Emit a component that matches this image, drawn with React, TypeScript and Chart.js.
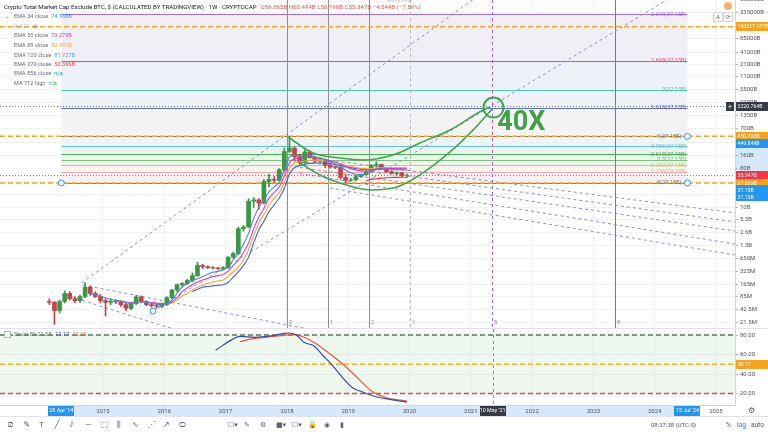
import React, { useEffect, useRef } from 'react';
import { Chart, registerables } from 'chart.js';

Chart.register(...registerables);

const FONT = 'Roboto, "Noto Sans", "DejaVu Sans", sans-serif';

// ---------- time axis (decimal years) ----------
const X_MIN = 2013.32;
const X_MAX = 2025.31;
const YEAR_TICKS = [2015, 2016, 2017, 2018, 2019, 2020, 2021, 2022, 2023, 2024, 2025];

// ---------- price axis (billions USD, log) ----------
const PRICE_MIN = 0.01572;
const PRICE_MAX = 667400;
const PRICE_TICKS = [0.0215, 0.0425, 0.085, 0.165, 0.325, 0.65, 1.3, 2.6, 5.2, 10, 20, 40, 80, 160, 320, 700, 1350, 2700, 5500, 11000, 21000, 41000, 85000, 165000, 335000, 680000];
const PRICE_TICK_LABELS = ['21.5M', '42.5M', '85M', '165M', '325M', '650M', '1.3B', '2.6B', '5.2B', '10B', '20B', '40B', '80B', '160B', '320B', '700B', '1350B', '2700B', '5500B', '11000B', '21000B', '41000B', '85000B', '165000B', '335000B', '680000B'];

// ---------- monthly candles (billions) ----------
const CANDLE_MONTHS = [
  '2014-02', '2014-03', '2014-04', '2014-05', '2014-06', '2014-07', '2014-08', '2014-09', '2014-10', '2014-11', '2014-12',
  '2015-01', '2015-02', '2015-03', '2015-04', '2015-05', '2015-06', '2015-07', '2015-08', '2015-09', '2015-10', '2015-11', '2015-12',
  '2016-01', '2016-02', '2016-03', '2016-04', '2016-05', '2016-06', '2016-07', '2016-08', '2016-09', '2016-10', '2016-11', '2016-12',
  '2017-01', '2017-02', '2017-03', '2017-04', '2017-05', '2017-06', '2017-07', '2017-08', '2017-09', '2017-10', '2017-11', '2017-12',
  '2018-01', '2018-02', '2018-03', '2018-04', '2018-05', '2018-06', '2018-07', '2018-08', '2018-09', '2018-10', '2018-11', '2018-12',
  '2019-01', '2019-02', '2019-03', '2019-04', '2019-05', '2019-06', '2019-07', '2019-08', '2019-09', '2019-10', '2019-11', '2019-12',
];
const OPEN = [
  0.065, 0.062, 0.040, 0.065, 0.100, 0.075, 0.068, 0.085, 0.140, 0.100, 0.085,
  0.068, 0.062, 0.066, 0.064, 0.055, 0.045, 0.058, 0.083, 0.065, 0.055, 0.052, 0.050,
  0.055, 0.080, 0.120, 0.160, 0.170, 0.200, 0.260, 0.450, 0.420, 0.400, 0.390, 0.380,
  0.400, 0.700, 0.850, 3.2, 3.5, 14, 15, 12.7, 40, 45, 43, 75,
  200, 240, 150, 110, 195, 145, 120, 125, 95, 88, 85, 50,
  43, 44, 52, 58, 67, 95, 100, 80, 68, 62, 64, 55,
];
const HIGH = [
  0.075, 0.065, 0.070, 0.115, 0.110, 0.085, 0.090, 0.180, 0.150, 0.110, 0.095,
  0.075, 0.075, 0.072, 0.068, 0.060, 0.060, 0.090, 0.088, 0.068, 0.060, 0.056, 0.060,
  0.085, 0.125, 0.165, 0.180, 0.215, 0.300, 0.540, 0.480, 0.440, 0.420, 0.410, 0.420,
  0.720, 0.900, 3.5, 3.8, 16, 17, 16, 45, 60, 52, 80, 240,
  450, 260, 175, 220, 210, 155, 140, 128, 105, 92, 88, 60,
  48, 55, 60, 72, 100, 115, 102, 82, 72, 68, 66, 60.494,
];
const LOW = [
  0.055, 0.019, 0.035, 0.060, 0.070, 0.060, 0.062, 0.080, 0.090, 0.080, 0.060,
  0.030, 0.055, 0.058, 0.050, 0.040, 0.042, 0.055, 0.060, 0.052, 0.048, 0.045, 0.046,
  0.052, 0.075, 0.110, 0.140, 0.160, 0.185, 0.250, 0.380, 0.380, 0.370, 0.360, 0.360,
  0.380, 0.650, 0.800, 2.8, 3.4, 10, 9, 12, 30, 38, 42, 70,
  190, 120, 95, 105, 140, 110, 110, 85, 82, 80, 45, 38,
  40, 42, 50, 56, 65, 85, 75, 65, 60, 58, 52, 50.198,
];
const CLOSE = [
  0.062, 0.040, 0.065, 0.100, 0.075, 0.068, 0.085, 0.140, 0.100, 0.085, 0.068,
  0.062, 0.066, 0.064, 0.055, 0.045, 0.058, 0.083, 0.065, 0.055, 0.052, 0.050, 0.055,
  0.080, 0.120, 0.160, 0.170, 0.200, 0.260, 0.450, 0.420, 0.400, 0.390, 0.380, 0.400,
  0.700, 0.850, 3.2, 3.5, 14, 15, 12.7, 40, 45, 43, 75, 200,
  240, 150, 110, 195, 145, 120, 125, 95, 88, 85, 50, 43,
  44, 52, 58, 67, 95, 100, 80, 68, 62, 64, 55, 55.347,
];

// ---------- moving averages (billions, per month) ----------
const N = null;
const EMA34 = [
  N, N, N, N, N, N, N, N, 0.095, 0.093, 0.086,
  0.079, 0.073, 0.069, 0.066, 0.061, 0.059, 0.063, 0.064, 0.062, 0.059, 0.056, 0.055,
  0.058, 0.070, 0.100, 0.140, 0.170, 0.200, 0.220, 0.245, 0.280, 0.310, 0.330, 0.350,
  0.42, 0.60, 0.87, 1.4, 2.5, 5.5, 10, 15, 23, 30, 39, 75,
  150, 165, 158, 160, 160, 150, 140, 127, 113, 102, 88, 74,
  64, 59, 58, 60, 67, 75, 78, 78, 76.5, 75.5, 74.8, 74.188,
];
const EMA55 = [
  N, N, N, N, N, N, N, N, N, N, N,
  N, N, 0.068, 0.066, 0.063, 0.061, 0.063, 0.064, 0.063, 0.061, 0.059, 0.058,
  0.058, 0.063, 0.080, 0.110, 0.135, 0.160, 0.185, 0.205, 0.225, 0.245, 0.260, 0.275,
  0.33, 0.45, 0.60, 0.90, 1.5, 3.2, 6.0, 9.5, 16.5, 22, 30, 55,
  110, 135, 140, 145, 148, 145, 140, 132, 122, 113, 102, 90,
  80, 74, 71, 70, 73, 78, 80.5, 81, 80.5, 80, 79.6, 79.279,
];
const EMA89 = [
  N, N, N, N, N, N, N, N, N, N, N,
  N, N, N, N, N, N, N, N, N, 0.061, 0.060, 0.059,
  0.058, 0.060, 0.070, 0.087, 0.100, 0.120, 0.140, 0.157, 0.170, 0.185, 0.195, 0.205,
  0.25, 0.32, 0.41, 0.60, 1.06, 2.2, 4.3, 6.8, 11.3, 16, 22, 38,
  80, 108, 115, 120, 125, 126, 125, 122, 117, 111, 104, 96,
  90, 85, 81, 79, 80, 82.5, 84, 84.5, 84, 83.6, 83.3, 82.991,
];
const EMA120 = [
  N, N, N, N, N, N, N, N, N, N, N,
  N, N, N, N, N, N, N, N, N, N, N, N,
  N, N, N, N, N, 0.110, 0.125, 0.140, 0.145, 0.150, 0.155, 0.160,
  0.18, 0.24, 0.32, 0.45, 0.70, 1.5, 3.0, 4.8, 8.0, 11.5, 16.6, 28,
  60, 85, 93, 100, 106, 108, 108, 107, 104, 100, 95, 89,
  85, 81, 78, 77, 77.5, 79.5, 81, 81.6, 81.8, 81.9, 81.8, 81.727,
];
const EMA270 = [
  N, N, N, N, N, N, N, N, N, N, N,
  N, N, N, N, N, N, N, N, N, N, N, N,
  N, N, N, N, N, N, N, N, N, N, N, N,
  N, N, N, N, N, N, N, N, N, N, N, N,
  N, N, N, N, N, N, N, N, N, N, N, N,
  N, N, N, 42, 44.5, 46.5, 48, 49, 49.8, 50.1, 50.3, 50.366,
];
const EMA_COLORS = ['#4a89c8', '#d63ad6', '#f5a623', '#3d5afe', '#e53935'];

// ---------- drawings ----------
// trend lines: [startYear, startPrice, endYear, endPrice]
const TREND_LINES = [
  [2014.65, 0.175, 2021.5, 2050000],
  [2015.816, 0.039, 2024.5, 1220000],
  [2014.674, 0.157, 2019.0, 0.0098],
  [2014.38, 0.092, 2016.6, 0.0093],
  [2018.214, 154, 2025.31, 7.43],
  [2018.214, 119, 2025.31, 4.6],
  [2018.214, 84.9, 2025.31, 2.83],
  [2018.214, 61.2, 2025.31, 1.41],
  [2018.703, 28.2, 2025.31, 0.786],
];
const USER_HLINES = [160017.187, 450.126, 37.029];
const LAST_PRICE = 55.347;
const CROSSHAIR_PRICE = 2220.764;
const CROSSHAIR_TIME = 2021.356;

const CURVE_UPPER_X = [2018.018, 2018.426, 2018.866, 2019.241, 2019.731, 2020.171, 2020.661, 2021.199, 2021.313];
const CURVE_UPPER_Y = [435, 184.5, 141, 127, 166, 315, 632, 1844, 2163];
const CURVE_LOWER_X = [2018.214, 2018.54, 2018.866, 2019.356, 2019.796, 2020.171, 2020.661, 2021.069, 2021.362];
const CURVE_LOWER_Y = [108, 57, 37, 25.5, 29.9, 57, 195, 706, 2063];
const TARGET_TIME = 2021.37;
const TARGET_PRICE = 2100;
const TARGET_LABEL = '40X';
const TARGET_LABEL_TIME = 2021.43;
const TARGET_LABEL_PRICE = 930;
const TREND_HANDLE = [2015.816, 0.039];

// fib retracement (log)
const FIB_START = 2014.32; // 28 Apr '14
const FIB_END = 2024.535; // 15 Jul '24
const FIB_PRICE_0 = 37.15;
const FIB_PRICE_1 = 449.849;
const FIB_LEVELS = [0, 0.236, 0.382, 0.5, 0.618, 0.786, 1, 1.618, 2, 2.618, 3.618];
const FIB_LEVEL_TEXT = ['0', '0.236', '0.382', '0.5', '0.618', '0.786', '1', '1.618', '2', '2.618', '3.618'];
const FIB_COLORS = ['#787b86', '#f4a6b6', '#bcd35f', '#7cc47f', '#4caf50', '#6fbfd6', '#787b86', '#5c6bc0', '#4dc9b0', '#e05567', '#a56be0'];
const FIB_ZONE_FILLS = ['#f7f0f3', '#f6f5ec', '#f0f6ec', '#ebf5ed', '#e9f4f2', '#ebf4f8', '#f4f4f7', '#eef1f8', '#eef1f7', '#f1eff6'];
const FIB_LABEL_SUFFIX = '(37.15B)';

// fib time zones
const FIB_TIME_START = 2018.0;
const FIB_TIME_UNIT = 0.669;
const FIB_TIME_LEVELS = [0, 1, 2, 3, 5, 8];
const FIB_TIME_COLORS = ['#8d9099', '#8d9099', '#8d9099', '#b2b5be', '#a15fd0', '#b24fd8'];

// price axis labels
const AXIS_LABEL_PRICES = [160017.187, 450.126, 449.849, 55.347, 37.029, 37.15, 37.15];
const AXIS_LABEL_TEXTS = ['160017.187B', '450.126B', '449.849B', '55.347B', '37.029B', '37.15B', '37.15B'];
const AXIS_LABEL_COLORS = ['#f7a21b', '#f7a21b', '#2196f3', '#f23645', '#f7a21b', '#2196f3', '#2196f3'];
const AXIS_LABEL_SHIFT = [0, 0, 7, 0, 0, 7, 14];

// ---------- stochastic ----------
const STOCH_MIN = 8.2;
const STOCH_MAX = 86.2;
const STOCH_TICKS = [20, 40, 60, 80];
const STOCH_K_X = [2016.838, 2017.117, 2017.235, 2017.479, 2017.675, 2017.798, 2017.953, 2018.034, 2018.158, 2018.279, 2018.437, 2018.597, 2018.752, 2018.915, 2019.078, 2019.237, 2019.397, 2019.633, 2019.96];
const STOCH_K = [64.4, 75.8, 78.7, 77.7, 78.7, 79.7, 81.7, 82.1, 79.7, 72.6, 68.9, 58.5, 48.1, 35.8, 25.6, 21.5, 17.7, 14.4, 11.17];
const STOCH_D_X = [2017.235, 2017.398, 2017.638, 2017.953, 2018.116, 2018.279, 2018.437, 2018.677, 2018.915, 2019.157, 2019.397, 2019.633, 2019.96];
const STOCH_D = [73.1, 75.8, 77.7, 79.7, 80.7, 77.7, 72.6, 61.9, 50.1, 35.8, 21.8, 15.6, 12.16];
const STOCH_LEVELS = [80, 50, 20];
const STOCH_LEVEL_COLORS = ['#4d7f4d', '#e9b23a', '#e04848'];
const STOCH_LAST = 50.11;

const TIME_BOXES = [2014.32, 2021.356, 2024.535];
const TIME_BOX_TEXT = ["28 Apr '14", "10 May '21", "15 Jul '24"];
const TIME_BOX_COLORS = ['#2196f3', '#363a45', '#2196f3'];

const LEGEND_NAMES = ['EMA 34 close', 'Vol 21', 'EMA 55 close', 'EMA 89 close', 'EMA 120 close', 'EMA 270 close', 'EMA 856 close', 'MA 712 high'];
const LEGEND_VALUES = ['74.188B', '', '79.279B', '82.991B', '81.727B', '50.366B', 'n/a', 'n/a'];
const LEGEND_COLORS = ['#2196f3', '#b2b5be', '#d63ad6', '#f5a623', '#42a5f5', '#f44336', '#2196f3', '#4caf50'];
const LEGEND_Y = [16, 26, 35, 45, 55, 64, 73, 83];

const monthToYear = (m: string) => {
  const [yy, mo] = m.split('-').map(Number);
  return yy + (mo - 0.5) / 12;
};
const fibPrice = (lv: number) => FIB_PRICE_0 * Math.pow(FIB_PRICE_1 / FIB_PRICE_0, lv);

function labelBox(ctx: any, text: string, xLeft: number, yc: number, w: number, bg: string) {
  ctx.fillStyle = bg;
  ctx.fillRect(xLeft, Math.round(yc - 4.5), w, 9);
  ctx.fillStyle = '#ffffff';
  ctx.font = `5.2px ${FONT}`;
  ctx.textBaseline = 'middle';
  ctx.textAlign = 'left';
  ctx.fillText(text, xLeft + 1.5, yc + 0.5);
}

const mainOverlay = {
  id: 'mainOverlay',
  beforeDraw(chart: any) {
    const { ctx, width, height, chartArea, scales } = chart;
    ctx.save();
    ctx.fillStyle = '#ffffff';
    ctx.fillRect(0, 0, width, height);
    const t = scales.y.getPixelForValue(FIB_PRICE_1);
    const b = scales.y.getPixelForValue(FIB_PRICE_0);
    ctx.fillStyle = '#d6e8fb';
    ctx.fillRect(chartArea.right + 1, t, width - chartArea.right, b - t);
    ctx.restore();
  },
  beforeDatasetsDraw(chart: any) {
    const { ctx, chartArea, scales } = chart;
    const x = scales.x, y = scales.y;
    const xl = x.getPixelForValue(FIB_START), xr = x.getPixelForValue(FIB_END);
    ctx.save();
    ctx.beginPath();
    ctx.rect(chartArea.left, chartArea.top, chartArea.right - chartArea.left, chartArea.bottom - chartArea.top);
    ctx.clip();
    for (let i = 1; i < FIB_LEVELS.length; i++) {
      const y1 = y.getPixelForValue(fibPrice(FIB_LEVELS[i]));
      const y0 = y.getPixelForValue(fibPrice(FIB_LEVELS[i - 1]));
      ctx.fillStyle = FIB_ZONE_FILLS[i - 1];
      ctx.fillRect(xl, y1, xr - xl, y0 - y1);
    }
    FIB_LEVELS.forEach((lv, i) => {
      const py = Math.round(y.getPixelForValue(fibPrice(lv))) + 0.5;
      ctx.strokeStyle = FIB_COLORS[i];
      ctx.lineWidth = 1;
      ctx.beginPath();
      ctx.moveTo(xl, py);
      ctx.lineTo(xr, py);
      ctx.stroke();
    });
    FIB_TIME_LEVELS.forEach((n, i) => {
      const px = Math.round(x.getPixelForValue(FIB_TIME_START + n * FIB_TIME_UNIT)) + 0.5;
      ctx.strokeStyle = FIB_TIME_COLORS[i];
      ctx.lineWidth = 1;
      ctx.setLineDash(n === 3 || n === 5 ? [3, 3] : []);
      ctx.beginPath();
      ctx.moveTo(px, chartArea.top);
      ctx.lineTo(px, chartArea.bottom);
      ctx.stroke();
    });
    ctx.setLineDash([]);
    ctx.restore();
  },
  afterDatasetsDraw(chart: any) {
    const { ctx, chartArea, scales } = chart;
    const x = scales.x, y = scales.y;
    const xr = x.getPixelForValue(FIB_END);
    ctx.save();
    ctx.font = `5.6px ${FONT}`;
    ctx.textAlign = 'right';
    ctx.textBaseline = 'middle';
    FIB_LEVELS.forEach((lv, i) => {
      const py = y.getPixelForValue(fibPrice(lv));
      ctx.fillStyle = FIB_COLORS[i];
      const off = lv === 0 || lv === 1 ? 6 : 1;
      ctx.fillText(FIB_LEVEL_TEXT[i] + FIB_LABEL_SUFFIX, xr - off, py);
    });
    ctx.textAlign = 'left';
    ctx.font = `5.6px ${FONT}`;
    FIB_TIME_LEVELS.forEach((n, i) => {
      const px = x.getPixelForValue(FIB_TIME_START + n * FIB_TIME_UNIT);
      ctx.fillStyle = FIB_TIME_COLORS[i];
      ctx.fillText(String(n), px + 2, chartArea.bottom - 5);
    });
    ctx.fillStyle = '#43a047';
    ctx.font = `bold 27px ${FONT}`;
    ctx.fillText(TARGET_LABEL, x.getPixelForValue(TARGET_LABEL_TIME), y.getPixelForValue(TARGET_LABEL_PRICE));
    ctx.restore();
  },
  afterDraw(chart: any) {
    const { ctx, chartArea, width, scales } = chart;
    const y = scales.y;
    ctx.save();
    AXIS_LABEL_PRICES.forEach((p, i) => {
      labelBox(ctx, AXIS_LABEL_TEXTS[i], chartArea.right + 1, y.getPixelForValue(p) + AXIS_LABEL_SHIFT[i], width - chartArea.right, AXIS_LABEL_COLORS[i]);
    });
    const cy = y.getPixelForValue(CROSSHAIR_PRICE);
    labelBox(ctx, CROSSHAIR_PRICE.toFixed(3) + 'B', chartArea.right + 1, cy, width - chartArea.right, '#363a45');
    ctx.fillStyle = '#363a45';
    ctx.fillRect(chartArea.right - 9, Math.round(cy - 4.5), 8, 9);
    ctx.fillStyle = '#fff';
    ctx.font = `7px ${FONT}`;
    ctx.textAlign = 'center';
    ctx.fillText('+', chartArea.right - 5, cy + 0.5);
    ctx.restore();
  },
};

const stochOverlay = {
  id: 'stochOverlay',
  beforeDraw(chart: any) {
    const { ctx, width, height, chartArea, scales } = chart;
    ctx.save();
    ctx.fillStyle = '#ffffff';
    ctx.fillRect(0, 0, width, height);
    const a = scales.x.getPixelForValue(FIB_START), b = scales.x.getPixelForValue(FIB_END);
    ctx.fillStyle = '#d6e8fb';
    ctx.fillRect(a, chartArea.bottom + 1, b - a, height - chartArea.bottom);
    ctx.restore();
  },
  beforeDatasetsDraw(chart: any) {
    const { ctx, chartArea, scales } = chart;
    const y80 = scales.y.getPixelForValue(80), y20 = scales.y.getPixelForValue(20);
    ctx.save();
    ctx.fillStyle = 'rgba(76, 175, 80, 0.09)';
    ctx.fillRect(chartArea.left, y80, chartArea.right - chartArea.left, y20 - y80);
    const cx = Math.round(scales.x.getPixelForValue(CROSSHAIR_TIME)) + 0.5;
    ctx.strokeStyle = '#9d86c2';
    ctx.setLineDash([3, 3]);
    ctx.beginPath();
    ctx.moveTo(cx, chartArea.top);
    ctx.lineTo(cx, chartArea.bottom);
    ctx.stroke();
    ctx.restore();
  },
  afterDraw(chart: any) {
    const { ctx, chartArea, width, height, scales } = chart;
    ctx.save();
    labelBox(ctx, STOCH_LAST.toFixed(2), chartArea.right + 1, scales.y.getPixelForValue(STOCH_LAST), width - chartArea.right, '#f7a21b');
    TIME_BOXES.forEach((t, i) => {
      const cx = scales.x.getPixelForValue(t);
      ctx.fillStyle = TIME_BOX_COLORS[i];
      ctx.fillRect(Math.round(cx - 13), chartArea.bottom + 1, 26, height - chartArea.bottom - 1);
      ctx.fillStyle = '#fff';
      ctx.font = `5.4px ${FONT}`;
      ctx.textAlign = 'center';
      ctx.textBaseline = 'middle';
      ctx.fillText(TIME_BOX_TEXT[i], cx, chartArea.bottom + (height - chartArea.bottom) / 2 + 0.5);
    });
    ctx.restore();
  },
};

function buildMain(canvas: HTMLCanvasElement) {
  const times = CANDLE_MONTHS.map(monthToYear);
  const colors = times.map((_, i) => (CLOSE[i] >= OPEN[i] ? '#3a9842' : '#c2454a'));
  const line = (data: any[], color: string, extra: any = {}) => ({
    type: 'line',
    data,
    borderColor: color,
    borderWidth: 1,
    pointRadius: 0,
    fill: false,
    ...extra,
  });
  const datasets: any[] = [];
  TREND_LINES.forEach((l) => {
    datasets.push(line([{ x: l[0], y: l[1] }, { x: l[2], y: l[3] }], '#8b90cf', { borderDash: [3, 3], order: 60 }));
  });
  USER_HLINES.forEach((v) => {
    datasets.push(line([{ x: X_MIN, y: v }, { x: X_MAX, y: v }], '#f5a623', { borderWidth: 1.5, borderDash: [5, 3], order: 55 }));
  });
  datasets.push(line([{ x: X_MIN, y: LAST_PRICE }, { x: X_MAX, y: LAST_PRICE }], '#ef5350', { borderDash: [1, 2], order: 55 }));
  datasets.push(line([{ x: X_MIN, y: CROSSHAIR_PRICE }, { x: X_MAX, y: CROSSHAIR_PRICE }], '#6b6f8a', { borderDash: [1, 2], order: 55 }));
  datasets.push({
    type: 'bar',
    data: times.map((x, i) => ({ x, y: [LOW[i], HIGH[i]] })),
    backgroundColor: colors,
    barThickness: 1,
    grouped: false,
    order: 40,
  });
  datasets.push({
    type: 'bar',
    data: times.map((x, i) => ({ x, y: [OPEN[i], CLOSE[i]] })),
    backgroundColor: colors,
    barThickness: 4,
    grouped: false,
    order: 39,
  });
  [EMA34, EMA55, EMA89, EMA120, EMA270].forEach((arr, k) => {
    datasets.push(line(times.map((x, i) => ({ x, y: arr[i] })), EMA_COLORS[k], { borderWidth: 1.1, cubicInterpolationMode: 'monotone', order: 30 }));
  });
  datasets.push(line(CURVE_UPPER_X.map((x, i) => ({ x, y: CURVE_UPPER_Y[i] })), '#3fa64a', { borderWidth: 1.6, cubicInterpolationMode: 'monotone', order: 10 }));
  datasets.push(line(CURVE_LOWER_X.map((x, i) => ({ x, y: CURVE_LOWER_Y[i] })), '#3fa64a', { borderWidth: 1.6, cubicInterpolationMode: 'monotone', order: 10 }));
  datasets.push(line([{ x: TARGET_TIME, y: TARGET_PRICE }], '#3fa64a', { showLine: false, pointRadius: 10, pointBorderWidth: 2, pointBorderColor: '#3fa64a', pointBackgroundColor: 'rgba(0,0,0,0)', order: 5 }));
  datasets.push(line([{ x: FIB_START, y: FIB_PRICE_0 }, { x: FIB_END, y: FIB_PRICE_1 }, { x: FIB_END, y: FIB_PRICE_0 }, { x: TREND_HANDLE[0], y: TREND_HANDLE[1] }], '#2196f3', { showLine: false, pointRadius: 3, pointBorderWidth: 1, pointBorderColor: '#2196f3', pointBackgroundColor: '#ffffff', order: 4 }));

  return new Chart(canvas, {
    type: 'bar',
    data: { datasets },
    options: {
      animation: false,
      responsive: false,
      maintainAspectRatio: false,
      events: [],
      layout: { padding: 0, autoPadding: false },
      plugins: { legend: { display: false }, tooltip: { enabled: false } },
      scales: {
        x: {
          type: 'linear',
          min: X_MIN,
          max: X_MAX,
          offset: false,
          grid: { color: '#f0f2f7', drawTicks: false, offset: false },
          border: { display: false },
          ticks: { display: false },
          afterBuildTicks: (a: any) => { a.ticks = YEAR_TICKS.map((v) => ({ value: v })); },
          afterFit: (a: any) => { a.height = 0; a.paddingLeft = 0; a.paddingRight = 0; },
        },
        y: {
          type: 'logarithmic',
          position: 'right',
          min: PRICE_MIN,
          max: PRICE_MAX,
          grid: { color: '#f0f2f7', tickLength: 3, tickColor: '#b2b5be' },
          border: { color: '#d1d4dc' },
          ticks: {
            autoSkip: false,
            font: { family: FONT, size: 6 },
            color: '#50535e',
            padding: 2,
            callback: (v: any) => {
              const i = PRICE_TICKS.indexOf(v);
              return i >= 0 ? PRICE_TICK_LABELS[i] : '';
            },
          },
          afterBuildTicks: (a: any) => { a.ticks = PRICE_TICKS.map((v) => ({ value: v })); },
          afterFit: (a: any) => { a.width = 33; a.paddingTop = 0; a.paddingBottom = 0; },
        },
      },
    } as any,
    plugins: [mainOverlay],
  } as any);
}

function buildStoch(canvas: HTMLCanvasElement) {
  const datasets: any[] = [];
  STOCH_LEVELS.forEach((v, i) => {
    datasets.push({ type: 'line', data: [{ x: X_MIN, y: v }, { x: X_MAX, y: v }], borderColor: STOCH_LEVEL_COLORS[i], borderWidth: 1.4, borderDash: [5, 3], pointRadius: 0, order: 20 });
  });
  datasets.push({ type: 'line', data: STOCH_D_X.map((x, i) => ({ x, y: STOCH_D[i] })), borderColor: '#e5593b', borderWidth: 1.2, pointRadius: 0, cubicInterpolationMode: 'monotone', order: 2 });
  datasets.push({ type: 'line', data: STOCH_K_X.map((x, i) => ({ x, y: STOCH_K[i] })), borderColor: '#3949ab', borderWidth: 1.2, pointRadius: 0, cubicInterpolationMode: 'monotone', order: 1 });
  return new Chart(canvas, {
    type: 'line',
    data: { datasets },
    options: {
      animation: false,
      responsive: false,
      maintainAspectRatio: false,
      events: [],
      layout: { padding: 0, autoPadding: false },
      plugins: { legend: { display: false }, tooltip: { enabled: false } },
      scales: {
        x: {
          type: 'linear',
          min: X_MIN,
          max: X_MAX,
          grid: { color: '#f0f2f7', drawTicks: false },
          border: { color: '#d1d4dc' },
          ticks: { autoSkip: false, maxRotation: 0, font: { family: FONT, size: 6 }, color: '#50535e', padding: 2.5, callback: (v: any) => String(v) },
          afterBuildTicks: (a: any) => { a.ticks = YEAR_TICKS.map((v) => ({ value: v })); },
          afterFit: (a: any) => { a.height = 11; a.paddingLeft = 0; a.paddingRight = 0; },
        },
        y: {
          type: 'linear',
          position: 'right',
          min: STOCH_MIN,
          max: STOCH_MAX,
          grid: { color: '#f0f2f7', tickLength: 3, tickColor: '#b2b5be' },
          border: { color: '#d1d4dc' },
          ticks: { autoSkip: false, font: { family: FONT, size: 6 }, color: '#50535e', padding: 2, callback: (v: any) => Number(v).toFixed(2) },
          afterBuildTicks: (a: any) => { a.ticks = STOCH_TICKS.map((v) => ({ value: v })); },
          afterFit: (a: any) => { a.width = 33; a.paddingTop = 0; a.paddingBottom = 0; },
        },
      },
    } as any,
    plugins: [stochOverlay],
  } as any);
}

const TOOL_ICONS = ['⧄', '✎', 'T', '╱', '⫽', '—', '⬚', '⫼', '∿', '⋰', '↗', '⬭'];
const TOOL_ICONS_2 = ['☐▾', '✎', '⚙', '■▾', '☐▾', '🔒', '◉', '▮'];

export default function App() {
  const mainRef = useRef<HTMLCanvasElement>(null);
  const stochRef = useRef<HTMLCanvasElement>(null);
  useEffect(() => {
    document.body.style.margin = '0';
    const m = buildMain(mainRef.current as HTMLCanvasElement);
    const s = buildStoch(stochRef.current as HTMLCanvasElement);
    return () => { m.destroy(); s.destroy(); };
  }, []);
  const abs = (o: any) => ({ position: 'absolute', whiteSpace: 'nowrap', ...o } as any);
  return (
    <div style={{ position: 'relative', width: 768, height: 432, overflow: 'hidden', background: '#fff', fontFamily: FONT }}>
      <canvas ref={mainRef} width={768} height={328} style={{ position: 'absolute', left: 0, top: 0 }} />
      <div style={abs({ left: 0, top: 328, width: 768, height: 1, background: '#e0e3eb' })} />
      <canvas ref={stochRef} width={768} height={87} style={{ position: 'absolute', left: 0, top: 329 }} />

      {/* title */}
      <div style={abs({ left: 4, top: 1.5, fontSize: 6.1, lineHeight: '9px', color: '#131722' })}>
        Crypto Total Market Cap Exclude BTC, $ (CALCULATED BY TRADINGVIEW) · 1W · CRYPTOCAP
        <span style={{ color: '#ef5350', marginLeft: 4 }}>O59.865B H60.494B L50.198B C55.347B −4.544B (−7.59%)</span>
      </div>
      <div style={abs({ left: 388, top: -1, fontSize: 3.5, color: '#b2b5be' })}>Exit Full Screen</div>

      {/* legend */}
      <div style={abs({ left: 5, top: LEGEND_Y[0] - 4, fontSize: 6, lineHeight: '8px', color: '#787b86' })}>⌄</div>
      {LEGEND_NAMES.map((n, i) => (
        <div key={n} style={abs({ left: 14, top: LEGEND_Y[i] - 4, fontSize: 5.6, lineHeight: '8px', color: i === 1 ? '#b2b5be' : '#6a6d78' })}>
          {n}
          {i === 1 ? <span style={{ marginLeft: 3, color: '#6a6d78' }}>◎</span> : <span style={{ marginLeft: 3, color: LEGEND_COLORS[i] }}>{LEGEND_VALUES[i]}</span>}
        </div>
      ))}

      {/* top right icons */}
      <div style={abs({ left: 724, top: 2, width: 8, height: 8, borderRadius: 4, background: '#f7b56b' })} />
      <div style={abs({ left: 713, top: 12, width: 8, height: 8, border: '1px solid #d1d4dc', fontSize: 5.5, lineHeight: '8px', textAlign: 'center', color: '#50535e', background: '#fff' })}>A</div>
      <div style={abs({ left: 723, top: 12, width: 8, height: 8, border: '1px solid #d1d4dc', fontSize: 6, lineHeight: '8px', textAlign: 'center', color: '#50535e', background: '#fff' })}>⟳</div>

      {/* stoch legend */}
      <div style={abs({ left: 4, top: 331, width: 5, height: 5, border: '1px solid #b2b5be', background: '#fff' })} />
      <div style={abs({ left: 14, top: 330, fontSize: 5.6, lineHeight: '8px', color: '#6a6d78' })}>
        Stoch 89 21 55<span style={{ marginLeft: 4, color: '#3949ab' }}>11.17</span><span style={{ marginLeft: 3, color: '#e5593b' }}>12.16</span>
      </div>
      <div style={abs({ left: 748, top: 405, fontSize: 8, lineHeight: '11px', color: '#50535e' })}>⚙</div>

      {/* bottom toolbar */}
      <div style={abs({ left: 0, top: 416, width: 768, height: 16, borderTop: '1px solid #e0e3eb', background: '#fff' })}>
        {TOOL_ICONS.map((ic, i) => (
          <span key={'a' + i} style={{ position: 'absolute', left: 8 + i * 15.5, top: 2, fontSize: 8, lineHeight: '12px', color: '#5d606b' }}>{ic}</span>
        ))}
        {TOOL_ICONS_2.map((ic, i) => (
          <span key={'b' + i} style={{ position: 'absolute', left: 228 + i * 16, top: 2, fontSize: 7, lineHeight: '12px', color: '#5d606b' }}>{ic}</span>
        ))}
        <span style={{ position: 'absolute', left: 651, top: 2, fontSize: 6, lineHeight: '12px', color: '#50535e' }}>08:27:38 (UTC-5)</span>
        <span style={{ position: 'absolute', left: 726, top: 2, fontSize: 6.5, lineHeight: '12px', color: '#50535e' }}>%</span>
        <span style={{ position: 'absolute', left: 737, top: 2, fontSize: 6.5, lineHeight: '12px', color: '#2962ff' }}>log</span>
        <span style={{ position: 'absolute', left: 751, top: 2, fontSize: 6.5, lineHeight: '12px', color: '#50535e' }}>auto</span>
      </div>
    </div>
  );
}
